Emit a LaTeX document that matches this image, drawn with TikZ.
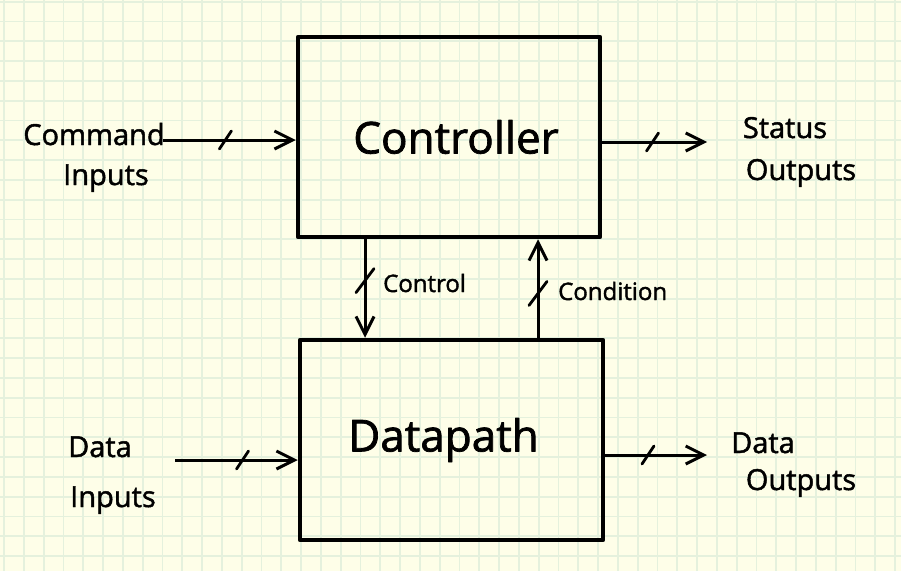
\documentclass[tikz,border=0pt]{standalone}
\usepackage{fontspec}
\setmainfont{Open Sans}[FakeBold=1.6]
\usetikzlibrary{arrows.meta,calc}
\definecolor{paper}{RGB}{254,254,232}
\definecolor{gridc}{RGB}{229,241,221}
\begin{document}
\begin{tikzpicture}[x=1pt,y=-1pt,
  box/.style={draw=black,line width=4.5pt,line join=round,inner sep=0pt,minimum height=200pt},
  wire/.style={line width=3pt,-{Straight Barb[length=18pt,width=18pt,line width=3pt]}},
  busmark/.style={line width=2.8pt,line cap=round},
  lbl/.style={font=\fontsize{29}{33}\selectfont,anchor=base,inner sep=0pt},
  small/.style={font=\fontsize{24}{28}\selectfont,anchor=base west,inner sep=0pt},
  title/.style={font=\fontsize{44}{50}\selectfont},
  gridline/.style={draw=gridc,line width=1.8pt}]
\useasboundingbox (0,0) rectangle (901,571);
\fill[paper] (0,0) rectangle (901,571);
\foreach \i in {0,...,45} {\draw[gridline] (4+19.8*\i,0) -- (4+19.8*\i,571);}
\foreach \j in {0,...,28} {\draw[gridline] (0,1.7+19.8*\j) -- (901,1.7+19.8*\j);}

% boxes
\node[box,minimum width=302pt,title] (ctrl) at (449,137) {\hspace*{14pt}Controller};
\node[box,minimum width=303pt,title] (dp) at (451.5,440) {Datapath\hspace*{16pt}};

% side labels
\node[lbl] (cmdA) at (94,145) {Command};
\node[lbl] (cmdB) at (106,185) {Inputs};
\node[lbl] (stA) at (785,138) {Status};
\node[lbl] (stB) at (801,180) {Outputs};
\node[lbl] (diA) at (100,457) {Data};
\node[lbl] (diB) at (113,507) {Inputs};
\node[lbl] (doA) at (763,453) {Data};
\node[lbl] (doB) at (801,490) {Outputs};
\node[small] (ctl) at (383,292) {Control};
\node[small] (cnd) at (558,300) {Condition};

% connectors
\coordinate (cin) at (163,140);
\coordinate (sout) at (707,142);
\coordinate (din) at (175,460);
\coordinate (dout) at (707,455);
\coordinate (cx) at (365,0);
\coordinate (dx) at (538,0);

\draw[wire] (cin) -- coordinate[pos=0.47] (m1) (cin -| ctrl.west);
\draw[wire] (sout -| ctrl.east) -- coordinate[pos=0.48] (m2) (sout);
\draw[wire] (din) -- coordinate[pos=0.55] (m3) (din -| dp.west);
\draw[wire] (dout -| dp.east) -- coordinate[pos=0.42] (m4) (dout);
\draw[wire] (cx |- ctrl.south) -- coordinate[pos=0.42] (m5) (cx |- dp.north);
\draw[wire] (dx |- dp.north) -- coordinate[pos=0.45] (m6) (dx |- ctrl.south);

% bus marks
\foreach \m in {m1,m2,m3,m4} {\draw[busmark] ($(\m)+(-6,9)$) -- ($(\m)+(6,-9)$);}
\foreach \m in {m5,m6} {\draw[busmark] ($(\m)+(-9,12)$) -- ($(\m)+(9,-12)$);}
\end{tikzpicture}
\end{document}
